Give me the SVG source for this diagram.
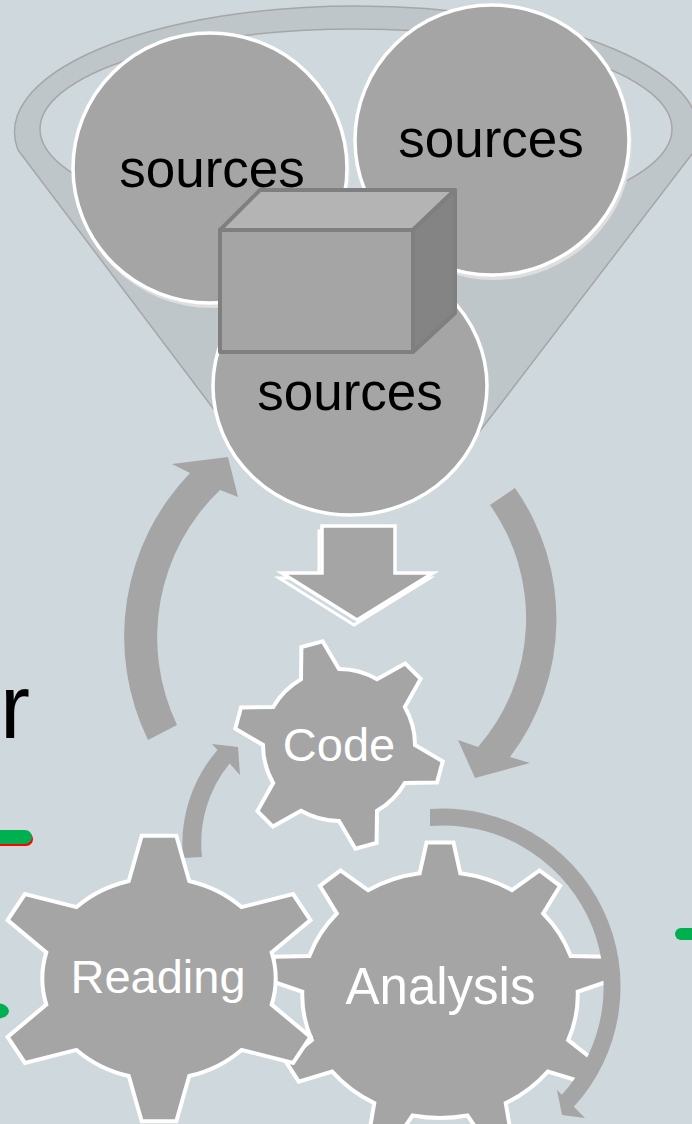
<svg xmlns="http://www.w3.org/2000/svg" width="692" height="1124" viewBox="0 0 692 1124">
<style>
.bg{fill:#cfd8dc}
.funnel{fill:#bfc6ca;stroke:#a6a6a6;stroke-width:1.5}
.hole{fill:#cfd8dc;stroke:#a6a6a6;stroke-width:1.5}
.shadow{fill:#dedede}
.node{fill:#a5a5a5;stroke:#ffffff;stroke-width:3.5}
.gear{fill:#a5a5a5;stroke:#ffffff;stroke-width:4;stroke-linejoin:miter}
.arrow{fill:#a5a5a5}
.src{font-family:"Liberation Sans",Arial,sans-serif;font-size:53px;fill:#000000;text-anchor:middle}
.glbl{font-family:"Liberation Sans",Arial,sans-serif;fill:#ffffff;text-anchor:middle}
.cube{stroke:#7f7f7f;stroke-width:4;stroke-linejoin:round}
.green{fill:#00b050}
</style>
<rect class="bg" x="0" y="0" width="692" height="1124"/>

<g id="funnel">
  <path class="funnel" d="M18,150 L237,440 L473,440 L695,150 A342 126 0 1 0 18,150 Z"/>
  <ellipse class="hole" cx="356" cy="129" rx="316" ry="100"/>
</g>

<g id="source-top-left">
  <ellipse class="shadow" cx="212" cy="172" rx="138" ry="136"/>
  <ellipse class="node" cx="210" cy="168" rx="137" ry="135"/>
  <text class="src" x="212" y="187">sources</text>
</g>
<g id="source-top-right">
  <ellipse class="shadow" cx="494" cy="144" rx="138" ry="136"/>
  <ellipse class="node" cx="492" cy="140" rx="137" ry="135"/>
  <text class="src" x="491" y="157">sources</text>
</g>
<g id="source-bottom">
  <ellipse class="node" cx="350" cy="386" rx="137" ry="129"/>
  <text class="src" x="350" y="410">sources</text>
</g>

<g id="cube">
  <polygon class="cube" fill="#b4b4b4" points="220,230 260,190 455,190 413,230"/>
  <polygon class="cube" fill="#848484" points="413,230 455,190 455,313 413,352"/>
  <polygon class="cube" fill="#a5a5a5" points="220,230 413,230 413,352 220,352"/>
</g>

<g id="gear-analysis" transform="translate(440,995)">
  <path class="gear" d="M-20.36,-121.65 L-13.45,-152.53 L13.45,-152.53 L20.36,-121.65 A137.76 123 0 0 1 71.98,-104.87 L99.51,-124.56 L120.11,-109.13 L103.18,-81.5 A137.76 123 0 0 1 130.64,-39.03 L165.89,-38.31 L170.57,-14.66 L137.72,-3.22 A137.76 123 0 0 1 128.17,45.08 L154.67,65.87 L141.22,86.66 L107.81,76.57 A137.76 123 0 0 1 65.74,108.09 L71.06,139.23 L45.79,147.43 L27.47,120.53 A137.76 123 0 0 1 -27.47,120.53 L-45.79,147.43 L-71.06,139.23 L-65.74,108.09 A137.76 123 0 0 1 -107.81,76.57 L-141.22,86.66 L-154.67,65.87 L-128.17,45.08 A137.76 123 0 0 1 -137.72,-3.22 L-170.57,-14.66 L-165.89,-38.31 L-130.64,-39.03 A137.76 123 0 0 1 -103.18,-81.5 L-120.11,-109.13 L-99.51,-124.56 L-71.98,-104.87 A137.76 123 0 0 1 -20.36,-121.65 Z"/>
  <text class="glbl" x="0.5" y="9" font-size="51">Analysis</text>
</g>

<g id="connectors">
  <polygon fill="none" stroke="#ffffff" stroke-width="3" points="319,531 392,531 392,578 430,578 354,625 279,578 319,578"/>
  <polygon class="node" stroke-width="4" points="322,526 395,526 395,573 433,573 357,620 282,573 322,573"/>
  <path class="arrow" d="M148,740 A236 236 0 0 1 190,473 L172,464 L228,457 L238,497 L220,490 A204 204 0 0 0 177,725 Z"/>
  <path class="arrow" d="M515,488 A228 228 0 0 1 510,757 L530,763 L475,778 L458,740 L478,747 A196 196 0 0 0 490,505 Z"/>
  <path class="arrow" d="M183,858 A143.5 143.5 0 0 1 217.5,750 L212,744 L238,747 L240,775 L229.6,763.5 A125.5 125.5 0 0 0 202,857 Z"/>
  <path class="arrow" d="M430,809 A178 178 0 0 1 573.8,1106.8 L585,1118 L562,1115 L557,1090 L561.8,1094.8 A161 161 0 0 0 430,826 Z"/>
</g>

<g id="gear-reading" transform="translate(159,978.5)">
  <path class="gear" d="M112.68,26.14 L151.41,58.36 L134.08,84.35 L82.49,71.42 A116.66 101 0 0 1 30.19,97.56 L17.32,142.71 L-17.32,142.71 L-30.19,97.56 A116.66 101 0 0 1 -82.49,71.42 L-134.08,84.35 L-151.41,58.36 L-112.68,26.14 A116.66 101 0 0 1 -112.68,-26.14 L-151.41,-58.36 L-134.08,-84.35 L-82.49,-71.42 A116.66 101 0 0 1 -30.19,-97.56 L-17.32,-142.71 L17.32,-142.71 L30.19,-97.56 A116.66 101 0 0 1 82.49,-71.42 L134.08,-84.35 L151.41,-58.36 L112.68,-26.14 A116.66 101 0 0 1 112.68,26.14 Z"/>
  <text class="glbl" x="-1" y="14.5" font-size="47">Reading</text>
</g>

<g id="gear-code" transform="translate(339,745)">
  <path class="gear" d="M76,0 L103.7,16.4 L98,37.6 L65.82,38 A76 76 0 0 1 38,65.82 L37.6,98 L16.4,103.7 L0,76 A76 76 0 0 1 -38,65.82 L-66.1,81.6 L-81.6,66.1 L-65.82,38 A76 76 0 0 1 -76,0 L-103.7,-16.4 L-98,-37.6 L-65.82,-38 A76 76 0 0 1 -38,-65.82 L-37.6,-98 L-16.4,-103.7 L0,-76 A76 76 0 0 1 38,-65.82 L66.1,-81.6 L81.6,-66.1 L65.82,-38 A76 76 0 0 1 76,0 Z"/>
  <text class="glbl" x="0" y="16" font-size="47">Code</text>
</g>

<g id="edge-fragments">
  <text x="0" y="738" font-family="Liberation Sans, Arial, sans-serif" font-size="90" fill="#000000">r</text>
  <rect x="-24" y="832" width="57" height="14" rx="7" fill="#ff0000"/>
  <rect x="-25" y="830" width="57" height="14" rx="7" class="green"/>
  <ellipse cx="-2" cy="1011" rx="11" ry="7.5" class="green"/>
  <rect x="675" y="928" width="40" height="12" rx="6" class="green"/>
</g>
</svg>
